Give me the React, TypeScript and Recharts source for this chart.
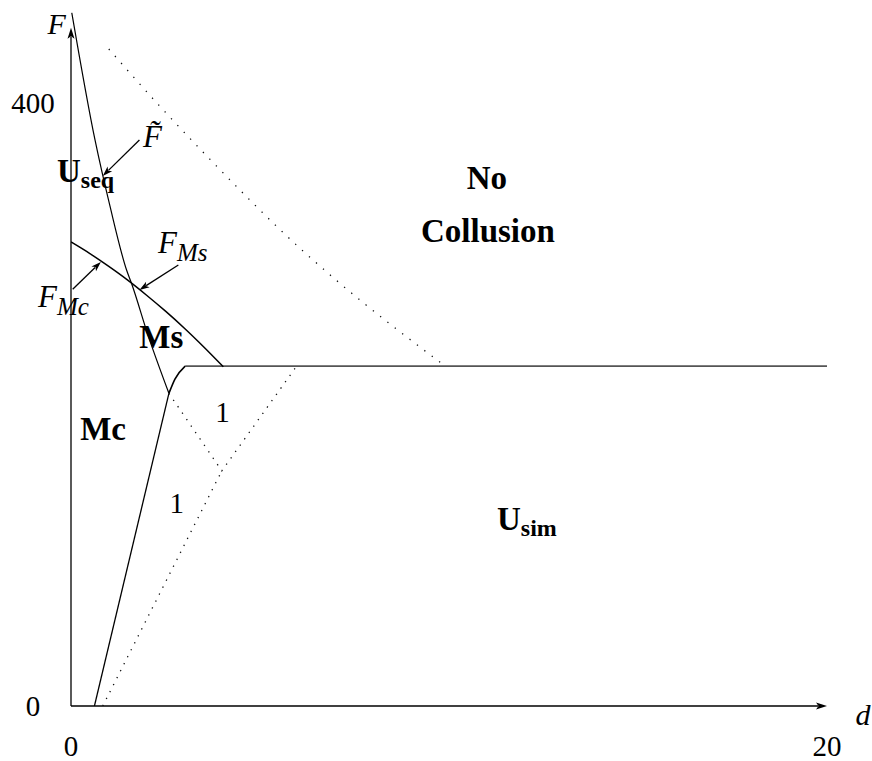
import React from 'react';
import { LineChart, Line, XAxis, YAxis, ReferenceLine, ReferenceDot } from 'recharts';

// ---------- data ----------
const xTicks = [0, 20];
const yTicks = [0, 400];

// F~ (steep sequential threshold curve)
const fTildeX = [0.02, 0.635, 1.03, 1.47, 1.6, 2.05, 2.59];
const fTildeY = [460, 375.5, 331.7, 289.2, 280.4, 245, 207.4];

// F_Mc / F_Ms curve
const fMX = [0, 0.5, 1, 1.5, 2, 2.5, 3, 3.5, 4.03];
const fMY = [307.8, 300.1, 291.6, 282.5, 272.5, 261.9, 250.6, 238.5, 225];

// Mc boundary line
const mcX = [0.62, 2.59];
const mcY = [0, 207.4];

// kink connecting to flat level
const kinkX = [2.59, 2.75, 3.02];
const kinkY = [207.4, 216.9, 225.5];

// flat level
const flatX = [3.02, 20];
const flatY = [225.5, 225.5];

// dotted curves
const bigDotX = [1.0, 2.4, 3.54, 6.13, 7.01, 9.87];
const bigDotY = [435.8, 396.5, 366.2, 302, 282.6, 226];
const vDotX = [2.59, 3.99, 5.97];
const vDotY = [207.4, 156, 225.5];
const lowDotX = [0.84, 3.99];
const lowDotY = [0, 156];

// arrows: from / to
const arrowFrom = [
  [1.81, 375.5],
  [2.84, 292.5],
  [0.045, 276.4],
];
const arrowTo = [
  [0.84, 351.6],
  [1.81, 276],
  [0.79, 294.6],
];

// axes
const xAxisEnd = [20, 0];
const yAxisEnd = [0, 450];

// text annotations
const regionText = ['No', 'Collusion', 'Ms', 'Mc'];
const regionX = [11.0, 11.03, 2.39, 0.85];
const regionY = [342.7, 308, 237.5, 176.5];

const subText = [
  { main: 'U', sub: 'seq' },
  { main: 'U', sub: 'sim' },
];
const subX = [-0.37, 11.27];
const subY = [347.6, 116.7];

const curveText = [
  { main: 'F\u0303', sub: '' },
  { main: 'F', sub: 'Ms' },
  { main: 'F', sub: 'Mc' },
];
const curveX = [1.905, 2.3, -0.87];
const curveY = [370.8, 300.5, 264.7];

const oneText = ['1', '1'];
const oneX = [4.01, 2.8];
const oneY = [188.6, 128.2];

const axisText = ['F', 'd'];
const axisTX = [-0.38, 20.95];
const axisTY = [446, -12.6];

// ---------- helpers ----------
const serif = '"Liberation Serif", "Times New Roman", serif';
type Pt = { x: number; y: number };
const zip = (xs: number[], ys: number[]): Pt[] => xs.map((x, i) => ({ x, y: ys[i] }));

function arrowShape(head: number, half: number, width: number) {
  return (p: any) => {
    const { x1, y1, x2, y2 } = p;
    const dx = x2 - x1;
    const dy = y2 - y1;
    const len = Math.hypot(dx, dy) || 1;
    const ux = dx / len;
    const uy = dy / len;
    const bx = x2 - ux * head;
    const by = y2 - uy * head;
    const nx = -uy;
    const ny = ux;
    return (
      <g>
        <line x1={x1} y1={y1} x2={bx + ux * 2} y2={by + uy * 2} stroke="#000" strokeWidth={width} />
        <polygon
          points={`${x2},${y2} ${bx + nx * half},${by + ny * half} ${bx + ux * 2.5},${by + uy * 2.5} ${bx - nx * half},${by - ny * half}`}
          fill="#000"
        />
      </g>
    );
  };
}

const XTick = (p: any) => (
  <text x={p.x} y={p.y} dy={50} textAnchor="middle" fontFamily={serif} fontSize={29} fill="#000">
    {p.payload.value}
  </text>
);
const YTick = (p: any) => (
  <text x={p.x} y={p.y} dx={-38} dy={10} textAnchor="middle" fontFamily={serif} fontSize={29} fill="#000">
    {p.payload.value}
  </text>
);

const textDot = (render: (cx: number, cy: number) => React.ReactElement) => (p: any) => render(p.cx, p.cy);

export default function App() {
  return (
    <div style={{ position: 'absolute', left: 0, top: 0, width: 872, height: 761 }}>
      <LineChart width={872} height={761} margin={{ top: 12.55, right: 45, bottom: 0, left: 0 }}>
        <XAxis
          dataKey="x"
          type="number"
          domain={[0, 20]}
          ticks={xTicks}
          axisLine={false}
          tickLine={false}
          tickSize={0}
          tickMargin={0}
          height={55}
          tick={XTick}
          interval={0}
          allowDataOverflow
        />
        <YAxis
          dataKey="y"
          type="number"
          domain={[0, 460]}
          ticks={yTicks}
          axisLine={false}
          tickLine={false}
          tickSize={0}
          tickMargin={0}
          width={71}
          tick={YTick}
          interval={0}
          allowDataOverflow
        />

        {/* axes with arrows */}
        <ReferenceLine
          segment={[{ x: 0, y: 0 }, { x: xAxisEnd[0], y: xAxisEnd[1] }]}
          ifOverflow="visible"
          shape={arrowShape(11, 3.5, 1.3)}
        />
        <ReferenceLine
          segment={[{ x: 0, y: 0 }, { x: yAxisEnd[0], y: yAxisEnd[1] }]}
          ifOverflow="visible"
          shape={arrowShape(11, 3.5, 1.3)}
        />

        {/* dotted lines */}
        <Line data={zip(bigDotX, bigDotY)} dataKey="y" type="monotone" stroke="#111" strokeWidth={1.3} strokeDasharray="1.3 8" dot={false} isAnimationActive={false} />
        <Line data={zip(vDotX, vDotY)} dataKey="y" type="linear" stroke="#111" strokeWidth={1.3} strokeDasharray="1.3 6.5" dot={false} isAnimationActive={false} />
        <Line data={zip(lowDotX, lowDotY)} dataKey="y" type="linear" stroke="#111" strokeWidth={1.3} strokeDasharray="1.3 6.5" dot={false} isAnimationActive={false} />

        {/* solid curves */}
        <Line data={zip(flatX, flatY)} dataKey="y" type="linear" stroke="#555" strokeWidth={1.8} dot={false} isAnimationActive={false} />
        <Line data={zip(fTildeX, fTildeY)} dataKey="y" type="monotone" stroke="#000" strokeWidth={1.2} dot={false} isAnimationActive={false} />
        <Line data={zip(fMX, fMY)} dataKey="y" type="monotone" stroke="#000" strokeWidth={1.5} dot={false} isAnimationActive={false} />
        <Line data={zip(mcX, mcY)} dataKey="y" type="linear" stroke="#000" strokeWidth={1.3} dot={false} isAnimationActive={false} />
        <Line data={zip(kinkX, kinkY)} dataKey="y" type="monotone" stroke="#000" strokeWidth={1.6} dot={false} isAnimationActive={false} />

        {/* annotation arrows */}
        {arrowFrom.map((f, i) => (
          <ReferenceLine
            key={'arr' + i}
            segment={[{ x: f[0], y: f[1] }, { x: arrowTo[i][0], y: arrowTo[i][1] }]}
            ifOverflow="visible"
            shape={arrowShape(10, 3.3, 1.3)}
          />
        ))}

        {/* axis letters */}
        {axisText.map((t, i) => (
          <ReferenceDot
            key={'ax' + i}
            x={axisTX[i]}
            y={axisTY[i]}
            r={0}
            ifOverflow="visible"
            shape={textDot((cx, cy) => (
              <text x={cx} y={cy} textAnchor="middle" fontFamily={serif} fontStyle="italic" fontSize={30} fill="#000">
                {t}
              </text>
            ))}
          />
        ))}

        {/* region labels */}
        {regionText.map((t, i) => (
          <ReferenceDot
            key={'rg' + i}
            x={regionX[i]}
            y={regionY[i]}
            r={0}
            ifOverflow="visible"
            shape={textDot((cx, cy) => (
              <text x={cx} y={cy} textAnchor="middle" fontFamily={serif} fontWeight="bold" fontSize={33} fill="#000">
                {t}
              </text>
            ))}
          />
        ))}

        {subText.map((t, i) => (
          <ReferenceDot
            key={'sb' + i}
            x={subX[i]}
            y={subY[i]}
            r={0}
            ifOverflow="visible"
            shape={textDot((cx, cy) => (
              <text x={cx} y={cy} textAnchor="start" fontFamily={serif} fontWeight="bold" fontSize={33} fill="#000">
                <tspan>{t.main}</tspan>
                <tspan dy={6} fontSize={24}>{t.sub}</tspan>
              </text>
            ))}
          />
        ))}

        {curveText.map((t, i) => (
          <ReferenceDot
            key={'cv' + i}
            x={curveX[i]}
            y={curveY[i]}
            r={0}
            ifOverflow="visible"
            shape={textDot((cx, cy) => (
              <text x={cx} y={cy} textAnchor="start" fontFamily={serif} fontStyle="italic" fontSize={31} fill="#000">
                <tspan>{t.main}</tspan>
                {t.sub ? <tspan dy={8} fontSize={25}>{t.sub}</tspan> : null}
              </text>
            ))}
          />
        ))}

        {oneText.map((t, i) => (
          <ReferenceDot
            key={'on' + i}
            x={oneX[i]}
            y={oneY[i]}
            r={0}
            ifOverflow="visible"
            shape={textDot((cx, cy) => (
              <text x={cx} y={cy} textAnchor="middle" fontFamily={serif} fontSize={29} fill="#000">
                {t}
              </text>
            ))}
          />
        ))}
      </LineChart>
    </div>
  );
}
